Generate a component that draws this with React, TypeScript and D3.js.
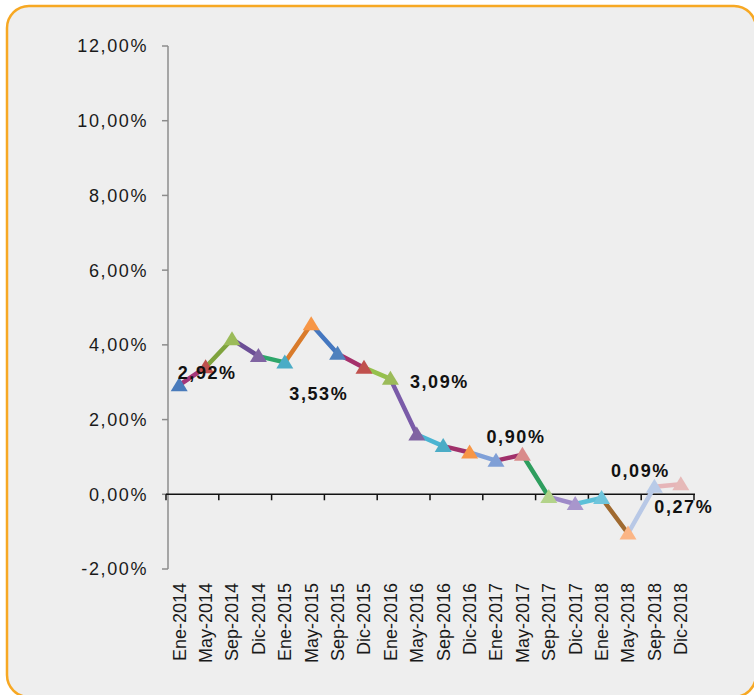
import React from 'react';
import * as d3 from 'd3';

// data
const categories = [
  'Ene-2014', 'May-2014', 'Sep-2014', 'Dic-2014', 'Ene-2015', 'May-2015', 'Sep-2015',
  'Dic-2015', 'Ene-2016', 'May-2016', 'Sep-2016', 'Dic-2016', 'Ene-2017', 'May-2017',
  'Sep-2017', 'Dic-2017', 'Ene-2018', 'May-2018', 'Sep-2018', 'Dic-2018',
];
const values = [
  2.92, 3.4, 4.15, 3.7, 3.53, 4.55, 3.76, 3.39, 3.09, 1.6,
  1.29, 1.12, 0.9, 1.06, -0.07, -0.26, -0.1, -1.05, 0.2, 0.27,
];
const yTicks = [-2, 0, 2, 4, 6, 8, 10, 12];

// Excel "vary colors by point"
const markerColors = [
  '#4a7bbb', '#c0504d', '#9bbb59', '#8064a2', '#4bacc6', '#f79646',
  '#4f81bd', '#c0504d', '#9bbb59', '#8064a2', '#4bacc6', '#f79646',
  '#7f9fd6', '#d98b8b', '#b3d38a', '#a896cc', '#6fc5dc', '#fbb585',
  '#b9cbe8', '#e6b9b8',
];
const segmentColors = [
  '#a5367a', '#7fa33e', '#6b4e96', '#2ea66a', '#d97b2b', '#4477c0',
  '#a5306b', '#95c04c', '#7a5ba8', '#4ab4d2', '#a0306a', '#7fa0d8',
  '#a0306a', '#2e9e5e', '#9e8ac8', '#5cc0d8', '#a06a30', '#b8c8e6', '#e6b5b8',
];

// labels as placed in the original (index, text, dx, dy)
const dataLabels = [
  { i: 0, text: '2,92%', dx: 28, dy: -13 },
  { i: 4, text: '3,53%', dx: 34, dy: 31 },
  { i: 8, text: '3,09%', dx: 49, dy: 3 },
  { i: 12, text: '0,90%', dx: 20, dy: -24 },
  { i: 18, text: '0,09%', dx: -14, dy: -16 },
  { i: 19, text: '0,27%', dx: 3, dy: 22 },
];

const W = 754;
const H = 695;
const font = 'Arial, "Liberation Sans", sans-serif';

export default function App() {
  const x = d3.scaleBand<string>().domain(categories).range([166, 694]).padding(0);
  const y = d3.scaleLinear().domain([-2, 12]).range([569, 46]);
  const cx = (i: number) => (x(categories[i]) as number) + x.bandwidth() / 2;
  const fmt = (v: number) => v.toFixed(2).replace('.', ',') + '%';

  const seg = d3.line();
  const tri = (px: number, py: number) =>
    `M${px},${py - 8}L${px + 8.5},${py + 6}L${px - 8.5},${py + 6}Z`;

  const xTickPos = categories
    .map((c, i) => (i % 2 === 0 ? (x(c) as number) : null))
    .filter((v) => v !== null) as number[];
  xTickPos.push(694);

  return (
    <svg width={W} height={H} style={{ position: 'absolute', left: 0, top: 0 }} fontFamily={font}>
      <rect x={0} y={0} width={W} height={H} fill="#ffffff" />
      <rect x={7} y={6} width={749} height={691} rx={22} ry={22} fill="#eeeeee" stroke="#f7a823" strokeWidth={2.5} />

      {/* y axis */}
      <line x1={168} x2={168} y1={y(12)} y2={y(-2)} stroke="#8c8c8c" strokeWidth={1.5} />
      {yTicks.map((t) => (
        <g key={t}>
          <line x1={162} x2={168} y1={y(t)} y2={y(t)} stroke="#8c8c8c" strokeWidth={1.5} />
          <text x={148} y={y(t)} dy="0.36em" textAnchor="end" fontSize={18} letterSpacing={1.6} fill="#1a1a1a">
            {fmt(t)}
          </text>
        </g>
      ))}

      {/* x axis at zero */}
      <line x1={166} x2={695} y1={y(0)} y2={y(0)} stroke="#111" strokeWidth={1.5} />
      {xTickPos.map((p, k) => (
        <line key={k} x1={p} x2={p} y1={y(0)} y2={y(0) + 6} stroke="#111" strokeWidth={1.5} />
      ))}
      {categories.map((c, i) => (
        <text
          key={c}
          transform={`translate(${cx(i)},583) rotate(-90)`}
          dy="0.35em"
          textAnchor="end"
          fontSize={18}
          fill="#1a1a1a"
        >
          {c}
        </text>
      ))}

      {/* segments, one colour each */}
      {values.slice(1).map((v, k) => (
        <path
          key={k}
          d={seg([[cx(k), y(values[k])], [cx(k + 1), y(v)]]) as string}
          stroke={segmentColors[k]}
          strokeWidth={4.5}
          strokeLinecap="round"
          fill="none"
        />
      ))}

      {/* markers */}
      {values.map((v, i) => (
        <path key={i} d={tri(cx(i), y(v))} fill={markerColors[i]} />
      ))}

      {/* data labels */}
      {dataLabels.map((l) => (
        <text
          key={l.i}
          x={cx(l.i) + l.dx}
          y={y(values[l.i]) + l.dy}
          dy="0.36em"
          textAnchor="middle"
          fontSize={18}
          fontWeight="bold"
          letterSpacing={1.6}
          fill="#111"
        >
          {l.text}
        </text>
      ))}
    </svg>
  );
}
